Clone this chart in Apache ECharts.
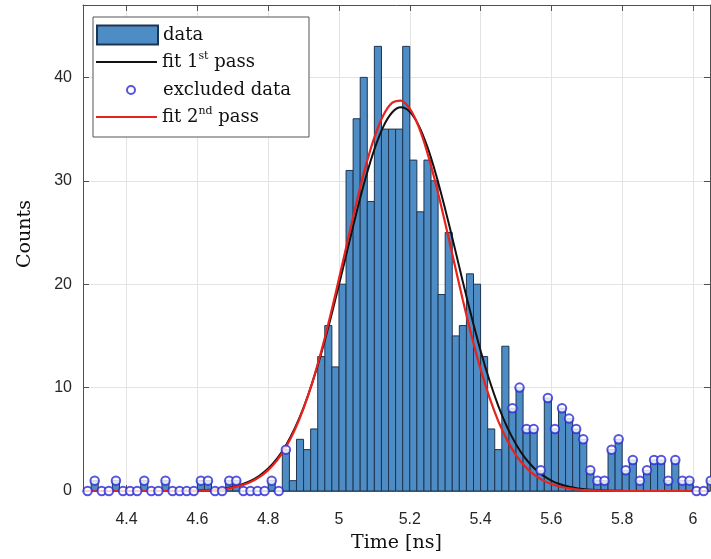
<!DOCTYPE html>
<html><head><meta charset="utf-8">
<script src="https://cdn.jsdelivr.net/npm/echarts@6/dist/echarts.min.js"></script>
<style>html,body{margin:0;padding:0;background:#fff}#c{width:711px;height:559px}</style>
</head><body><div id="c"></div>
<script>
// ---- data ----
const binStart = 4.28;   // left edge of first bin [ns]
const binWidth = 0.02;   // bin width [ns]
const counts = [
  0,1,0,0,1,0,0,0,1,0,0,1,0,0,0,0,1,1,0,0,1,1,0,0,0,0,1,0,4,
  1,5,4,6,13,16,12,20,31,36,40,28,43,35,35,35,43,32,27,32,30,19,25,15,16,21,20,13,6,4,14,
  8,10,6,6,2,9,6,8,7,6,5,2,1,1,4,5,2,3,1,2,3,3,1,3,1,1,0,0,1
];
const excludedBins = [
  0,1,2,3,4,5,6,7,8,9,10,11,12,13,14,15,16,17,18,19,20,21,22,23,24,25,26,27,28,
  60,61,62,63,64,65,66,67,68,69,70,71,72,73,74,75,76,77,78,79,80,81,82,83,84,85,86,87,88
];
const fitTime = [4.28,4.45,4.55,
  4.600,4.625,4.650,4.675,4.700,4.725,4.750,4.775,4.800,4.825,4.850,4.875,4.900,4.925,4.950,4.975,
  5.000,5.025,5.050,5.075,5.100,5.125,5.150,5.175,5.200,5.225,5.250,5.275,5.300,5.325,5.350,5.375,
  5.400,5.425,5.450,5.475,5.500,5.525,5.550,5.575,5.600,5.625,5.650,5.675,5.700,
  5.75,5.80,5.90,6.04];
const fit1Counts = [0,0,0.015,
  0.048,0.085,0.145,0.243,0.396,0.63,0.98,1.48,2.18,3.14,4.41,6.04,8.06,10.50,13.33,16.51,
  19.94,23.49,26.99,30.24,33.04,35.22,36.60,37.10,36.67,35.36,33.25,30.49,27.26,23.78,20.22,16.78,
  13.57,10.71,8.24,6.18,4.53,3.23,2.25,1.53,1.01,0.65,0.41,0.25,0.15,
  0.05,0.015,0,0];
const fit2Counts = [0,0,0.01,
  0.035,0.064,0.113,0.196,0.33,0.54,0.86,1.34,2.02,2.96,4.24,5.90,7.99,10.53,13.51,16.88,
  20.52,24.28,27.96,31.35,34.20,36.32,37.54,37.76,36.97,35.23,32.68,29.50,25.92,22.17,18.45,14.95,
  11.79,9.05,6.76,4.92,3.48,2.40,1.61,1.05,0.67,0.41,0.25,0.145,0.083,
  0.025,0.007,0,0];
const xTicks = [4.4,4.6,4.8,5,5.2,5.4,5.6,5.8,6];
const xTickLabels = ['4.4','4.6','4.8','5','5.2','5.4','5.6','5.8','6'];
const yTicks = [0,10,20,30,40];
const yTickLabels = ['0','10','20','30','40'];
const xMin = 4.277, xMax = 6.048, yMin = 0, yMax = 47;
const seriesNames = ['data','fit 1st pass','excluded data','fit 2nd pass'];

// ---- build ----
const barData = counts.map((c,i)=>[binStart + binWidth*(i+0.5), c]);
const excData = excludedBins.map(i=>[binStart + binWidth*(i+0.5), counts[i]]);
const fit1Data = fitTime.map((t,i)=>[t, fit1Counts[i]]);
const fit2Data = fitTime.map((t,i)=>[t, fit2Counts[i]]);

const axisColor = '#505050';
const barFill = '#4d8cc4', barEdge = '#1e3550';
const fit1Color = '#111111', fit2Color = '#e8231f', excColor = '#2a2ad8';
const serif = 'DejaVu Serif';
const tickFont = {fontFamily:'Liberation Sans', fontSize:16, color:'#262626'};
function lab(ticks, labels){ return v => { let b=0; ticks.forEach((t,i)=>{ if(Math.abs(t-v)<Math.abs(ticks[b]-v)) b=i; }); return labels[b]; }; }

function legendText(padLeft){
  return {fontFamily:serif, fontSize:18, color:'#111', lineHeight:22, padding:[0,0,0,padLeft],
    rich:{sup:{fontFamily:serif, fontSize:11, color:'#111', verticalAlign:'top', lineHeight:12}}};
}
function legendFmt(name){
  if(name==='fit 1st pass') return 'fit 1{sup|st} pass';
  if(name==='fit 2nd pass') return 'fit 2{sup|nd} pass';
  return name;
}
function mkLegend(item, left, top, w, h, padLeft){
  return {show:true, data:[item], left:left, top:top, orient:'vertical', itemWidth:w, itemHeight:h,
    padding:0, itemGap:0, selectedMode:false, formatter:legendFmt, textStyle:legendText(padLeft), z:5};
}

const chart = echarts.init(document.getElementById('c'), null, {renderer:'canvas', width:711, height:559});
chart.setOption({
  animation:false,
  backgroundColor:'#ffffff',
  grid:{left:83, right:1, top:5, bottom:68},
  xAxis:[
    {type:'value', min:xMin, max:xMax, position:'bottom',
     axisLine:{show:true, onZero:false, lineStyle:{color:axisColor, width:1}},
     axisTick:{show:true, inside:true, length:6, customValues:xTicks, lineStyle:{color:axisColor}},
     axisLabel:{show:true, customValues:xTicks, formatter:lab(xTicks,xTickLabels), margin:21, ...tickFont},
     splitLine:{show:true, lineStyle:{color:'#e3e3e3', width:1}},
     name:'Time [ns]', nameLocation:'middle', nameGap:43,
     nameTextStyle:{fontFamily:serif, fontSize:19, color:'#111'}},
    {type:'value', min:xMin, max:xMax, position:'top',
     axisLine:{show:true, onZero:false, lineStyle:{color:axisColor, width:1}},
     axisTick:{show:true, inside:true, length:6, customValues:xTicks, lineStyle:{color:axisColor}},
     axisLabel:{show:false}, splitLine:{show:false}}
  ],
  yAxis:[
    {type:'value', min:yMin, max:yMax, position:'left',
     axisLine:{show:true, onZero:false, lineStyle:{color:axisColor, width:1}},
     axisTick:{show:true, inside:true, length:6, customValues:yTicks, lineStyle:{color:axisColor}},
     axisLabel:{show:true, customValues:yTicks, formatter:lab(yTicks,yTickLabels), margin:11, ...tickFont},
     splitLine:{show:true, lineStyle:{color:'#e3e3e3', width:1}},
     name:'Counts', nameLocation:'middle', nameGap:48, nameRotate:90,
     nameTextStyle:{fontFamily:serif, fontSize:19, color:'#111', padding:[0,0,0,28]}},
    {type:'value', min:yMin, max:yMax, position:'right',
     axisLine:{show:true, onZero:false, lineStyle:{color:axisColor, width:1}},
     axisTick:{show:true, inside:true, length:6, customValues:yTicks, lineStyle:{color:axisColor}},
     axisLabel:{show:false}, splitLine:{show:false}}
  ],
  legend:[
    mkLegend({name:seriesNames[0], icon:'rect'}, 96, 24, 61, 19, 0),
    mkLegend({name:seriesNames[1], icon:'rect'}, 96, 51, 61, 2, 0),
    mkLegend({name:seriesNames[2], icon:'emptyCircle'}, 126, 79, 8, 8, 23),
    mkLegend({name:seriesNames[3], icon:'rect'}, 96, 106, 61, 2, 0)
  ],
  graphic:[{type:'rect', z:3, shape:{x:93, y:17, width:216, height:120},
            style:{fill:'#ffffff', stroke:'#555555', lineWidth:1}}],
  series:[
    {name:seriesNames[0], type:'custom', xAxisIndex:0, yAxisIndex:0, clip:true,
     itemStyle:{color:barFill, borderColor:barEdge, borderWidth:1},
     data:barData, z:2,
     renderItem:function(params, api){
       const x = api.value(0), y = api.value(1);
       const p0 = api.coord([x - binWidth/2, y]);
       const p1 = api.coord([x + binWidth/2, 0]);
       return {type:'rect', shape:{x:p0[0], y:p0[1], width:p1[0]-p0[0], height:p1[1]-p0[1]},
               style:{fill:barFill, stroke:barEdge, lineWidth:1}};
     }},
    {name:seriesNames[1], type:'line', data:fit1Data, smooth:0.3, symbol:'none',
     lineStyle:{color:fit1Color, width:2}, itemStyle:{color:fit1Color}, z:3},
    {name:seriesNames[2], type:'scatter', data:excData, symbol:'emptyCircle', symbolSize:8.5, clip:false,
     itemStyle:{color:excColor, borderColor:excColor, borderWidth:1.2}, z:4},
    {name:seriesNames[3], type:'line', data:fit2Data, smooth:0.3, symbol:'none',
     lineStyle:{color:fit2Color, width:2.2}, itemStyle:{color:fit2Color}, z:4}
  ]
});
</script></body></html>
